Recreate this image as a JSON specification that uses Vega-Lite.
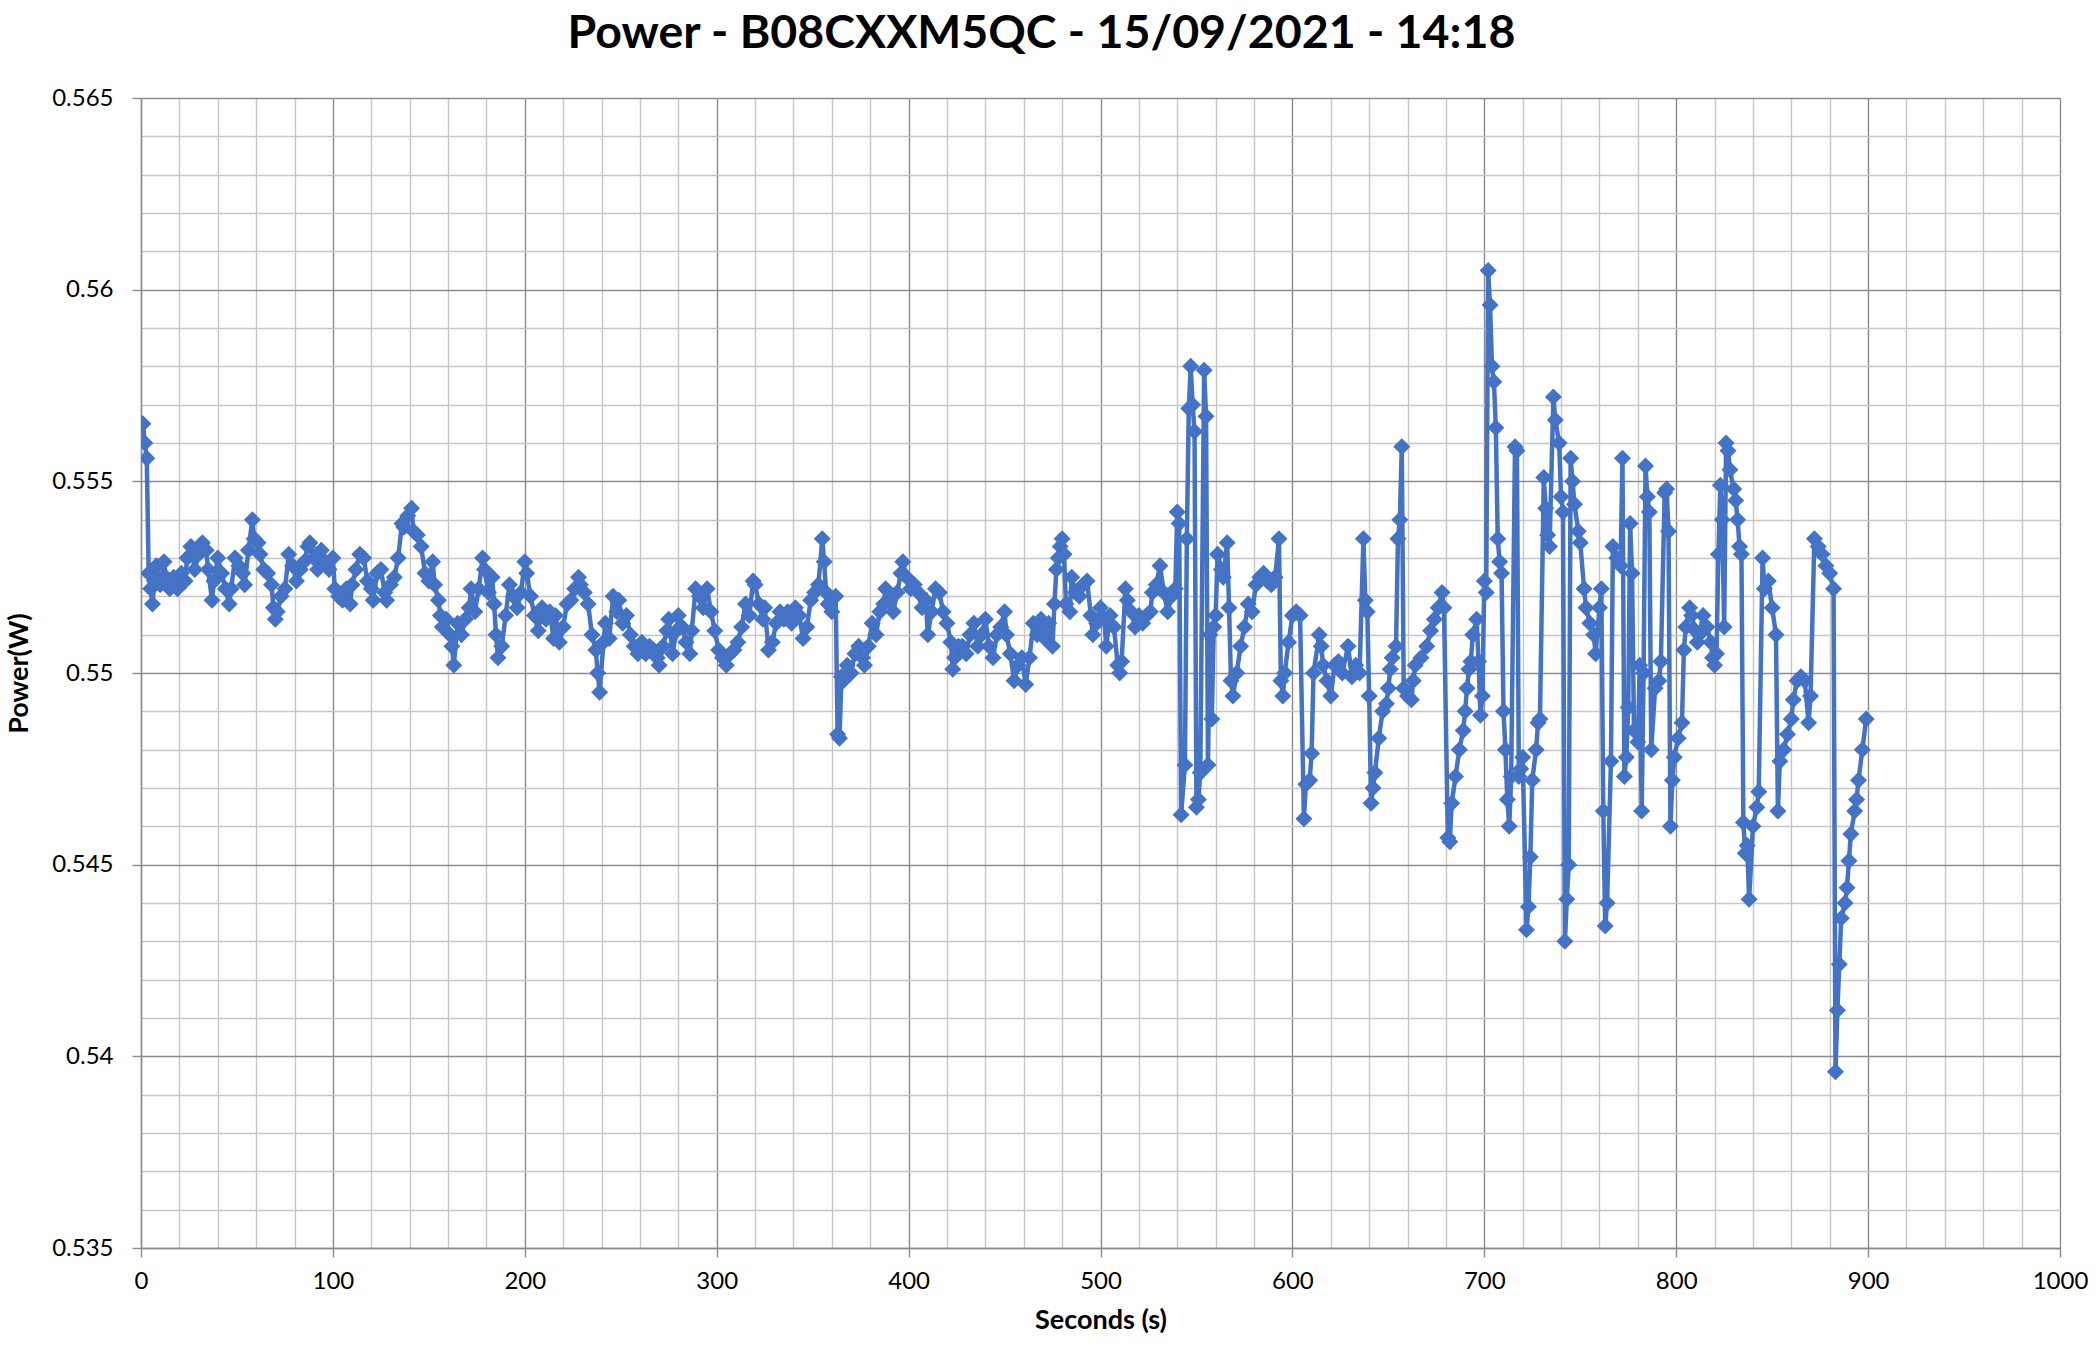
{
  "$schema": "https://vega.github.io/schema/vega-lite/v6.json",
  "width": 1919,
  "height": 1150,
  "autosize": {"type": "none"},
  "padding": {"left": 141, "top": 98, "right": 36, "bottom": 103},
  "background": "white",
  "config": {"view": {"stroke": null}},
  "title": {
    "text": "Power - B08CXXM5QC - 15/09/2021 - 14:18",
    "font": "Lato",
    "fontSize": 46.5,
    "fontWeight": "bold",
    "color": "#000000",
    "anchor": "middle",
    "dx": -59,
    "offset": -8,
    "baseline": "alphabetic"
  },
  "data": {
    "values": [
      {"s":1,"p":0.5565},{"s":2,"p":0.5560},{"s":3,"p":0.5556},{"s":4,"p":0.5526},{"s":5,"p":0.5522},{"s":6,"p":0.5518},{"s":7,"p":0.5524},{"s":8,"p":0.5528},{"s":10,"p":0.5523},{"s":12,"p":0.5529},{"s":13,"p":0.5525},{"s":15,"p":0.5522},{"s":17,"p":0.5525},{"s":19,"p":0.5522},{"s":21,"p":0.5526},{"s":23,"p":0.5524},{"s":24,"p":0.5530},{"s":26,"p":0.5533},{"s":28,"p":0.5527},{"s":30,"p":0.5531},{"s":32,"p":0.5534},{"s":34,"p":0.5532},{"s":35,"p":0.5527},{"s":37,"p":0.5519},{"s":38,"p":0.5524},{"s":40,"p":0.5530},{"s":42,"p":0.5526},{"s":44,"p":0.5522},{"s":46,"p":0.5518},{"s":47,"p":0.5522},{"s":49,"p":0.5530},{"s":51,"p":0.5528},{"s":53,"p":0.5526},{"s":54,"p":0.5523},{"s":56,"p":0.5532},{"s":58,"p":0.5540},{"s":59,"p":0.5535},{"s":61,"p":0.5534},{"s":62,"p":0.5531},{"s":64,"p":0.5527},{"s":66,"p":0.5526},{"s":68,"p":0.5523},{"s":69,"p":0.5517},{"s":70,"p":0.5514},{"s":71,"p":0.5516},{"s":73,"p":0.5520},{"s":75,"p":0.5522},{"s":77,"p":0.5531},{"s":79,"p":0.5528},{"s":81,"p":0.5524},{"s":83,"p":0.5527},{"s":85,"p":0.5529},{"s":87,"p":0.5533},{"s":88,"p":0.5534},{"s":90,"p":0.5530},{"s":92,"p":0.5527},{"s":94,"p":0.5532},{"s":96,"p":0.5529},{"s":98,"p":0.5527},{"s":100,"p":0.5530},
      {"s":101,"p":0.5522},{"s":103,"p":0.5520},{"s":105,"p":0.5519},{"s":107,"p":0.5522},{"s":109,"p":0.5518},{"s":110,"p":0.5523},{"s":112,"p":0.5527},{"s":114,"p":0.5531},{"s":116,"p":0.5530},{"s":118,"p":0.5524},{"s":120,"p":0.5522},{"s":121,"p":0.5519},{"s":123,"p":0.5526},{"s":125,"p":0.5527},{"s":127,"p":0.5521},{"s":128,"p":0.5519},{"s":130,"p":0.5523},{"s":132,"p":0.5525},{"s":134,"p":0.5530},{"s":136,"p":0.5539},{"s":137,"p":0.5538},{"s":139,"p":0.5541},{"s":141,"p":0.5543},{"s":142,"p":0.5537},{"s":144,"p":0.5536},{"s":146,"p":0.5533},{"s":148,"p":0.5526},{"s":150,"p":0.5524},{"s":152,"p":0.5529},{"s":153,"p":0.5523},{"s":155,"p":0.5519},{"s":156,"p":0.5515},{"s":157,"p":0.5512},{"s":159,"p":0.5514},{"s":161,"p":0.5510},{"s":162,"p":0.5507},{"s":163,"p":0.5502},{"s":165,"p":0.5513},{"s":167,"p":0.5510},{"s":169,"p":0.5514},{"s":171,"p":0.5517},{"s":172,"p":0.5522},{"s":174,"p":0.5516},{"s":176,"p":0.5522},{"s":178,"p":0.5530},{"s":179,"p":0.5527},{"s":181,"p":0.5521},{"s":183,"p":0.5525},{"s":184,"p":0.5518},{"s":185,"p":0.5510},{"s":186,"p":0.5504},{"s":188,"p":0.5507},{"s":190,"p":0.5515},{"s":192,"p":0.5523},{"s":194,"p":0.5520},{"s":196,"p":0.5517},{"s":198,"p":0.5521},{"s":200,"p":0.5529},
      {"s":201,"p":0.5526},{"s":203,"p":0.5520},{"s":205,"p":0.5515},{"s":207,"p":0.5511},{"s":209,"p":0.5517},{"s":211,"p":0.5514},{"s":213,"p":0.5516},{"s":215,"p":0.5509},{"s":216,"p":0.5515},{"s":218,"p":0.5508},{"s":220,"p":0.5512},{"s":222,"p":0.5518},{"s":224,"p":0.5519},{"s":226,"p":0.5522},{"s":228,"p":0.5525},{"s":229,"p":0.5523},{"s":231,"p":0.5521},{"s":233,"p":0.5518},{"s":235,"p":0.5510},{"s":237,"p":0.5506},{"s":238,"p":0.5500},{"s":239,"p":0.5495},{"s":241,"p":0.5508},{"s":242,"p":0.5513},{"s":244,"p":0.5509},{"s":246,"p":0.5520},{"s":248,"p":0.5516},{"s":249,"p":0.5519},{"s":251,"p":0.5513},{"s":253,"p":0.5515},{"s":255,"p":0.5510},{"s":257,"p":0.5507},{"s":259,"p":0.5505},{"s":261,"p":0.5508},{"s":263,"p":0.5505},{"s":265,"p":0.5507},{"s":267,"p":0.5506},{"s":269,"p":0.5504},{"s":270,"p":0.5502},{"s":272,"p":0.5507},{"s":274,"p":0.5511},{"s":275,"p":0.5514},{"s":277,"p":0.5505},{"s":279,"p":0.5511},{"s":280,"p":0.5515},{"s":282,"p":0.5512},{"s":284,"p":0.5508},{"s":286,"p":0.5505},{"s":287,"p":0.5511},{"s":289,"p":0.5522},{"s":291,"p":0.5520},{"s":293,"p":0.5517},{"s":295,"p":0.5522},{"s":297,"p":0.5516},{"s":299,"p":0.5511},
      {"s":301,"p":0.5506},{"s":303,"p":0.5504},{"s":305,"p":0.5502},{"s":307,"p":0.5505},{"s":309,"p":0.5506},{"s":311,"p":0.5508},{"s":313,"p":0.5512},{"s":315,"p":0.5518},{"s":317,"p":0.5515},{"s":319,"p":0.5524},{"s":320,"p":0.5523},{"s":322,"p":0.5518},{"s":324,"p":0.5514},{"s":325,"p":0.5517},{"s":327,"p":0.5506},{"s":329,"p":0.5508},{"s":331,"p":0.5513},{"s":333,"p":0.5516},{"s":335,"p":0.5514},{"s":337,"p":0.5516},{"s":339,"p":0.5513},{"s":341,"p":0.5517},{"s":343,"p":0.5515},{"s":345,"p":0.5509},{"s":347,"p":0.5512},{"s":349,"p":0.5519},{"s":351,"p":0.5521},{"s":353,"p":0.5523},{"s":355,"p":0.5535},{"s":356,"p":0.5529},{"s":357,"p":0.5521},{"s":358,"p":0.5518},{"s":360,"p":0.5516},{"s":362,"p":0.5520},{"s":363,"p":0.5484},{"s":364,"p":0.5483},{"s":365,"p":0.5499},{"s":366,"p":0.5498},{"s":368,"p":0.5502},{"s":370,"p":0.5500},{"s":372,"p":0.5505},{"s":374,"p":0.5507},{"s":376,"p":0.5504},{"s":377,"p":0.5502},{"s":379,"p":0.5507},{"s":381,"p":0.5513},{"s":383,"p":0.5510},{"s":385,"p":0.5516},{"s":387,"p":0.5518},{"s":388,"p":0.5522},{"s":390,"p":0.5519},{"s":392,"p":0.5516},{"s":394,"p":0.5521},{"s":396,"p":0.5526},{"s":397,"p":0.5529},{"s":399,"p":0.5525},
      {"s":401,"p":0.5522},{"s":403,"p":0.5523},{"s":405,"p":0.5521},{"s":407,"p":0.5517},{"s":409,"p":0.5519},{"s":410,"p":0.5510},{"s":412,"p":0.5516},{"s":414,"p":0.5522},{"s":416,"p":0.5521},{"s":418,"p":0.5516},{"s":420,"p":0.5513},{"s":422,"p":0.5508},{"s":423,"p":0.5501},{"s":424,"p":0.5504},{"s":426,"p":0.5507},{"s":428,"p":0.5507},{"s":430,"p":0.5505},{"s":432,"p":0.5510},{"s":434,"p":0.5513},{"s":436,"p":0.5507},{"s":438,"p":0.5510},{"s":440,"p":0.5514},{"s":442,"p":0.5507},{"s":444,"p":0.5504},{"s":446,"p":0.5510},{"s":448,"p":0.5512},{"s":450,"p":0.5516},{"s":451,"p":0.5510},{"s":453,"p":0.5505},{"s":455,"p":0.5498},{"s":457,"p":0.5502},{"s":459,"p":0.5504},{"s":461,"p":0.5497},{"s":463,"p":0.5504},{"s":465,"p":0.5513},{"s":467,"p":0.5510},{"s":469,"p":0.5514},{"s":471,"p":0.5509},{"s":473,"p":0.5513},{"s":475,"p":0.5507},{"s":476,"p":0.5518},{"s":477,"p":0.5527},{"s":478,"p":0.5530},{"s":479,"p":0.5533},{"s":480,"p":0.5535},{"s":481,"p":0.5531},{"s":482,"p":0.5518},{"s":484,"p":0.5516},{"s":485,"p":0.5525},{"s":487,"p":0.5521},{"s":489,"p":0.5520},{"s":491,"p":0.5523},{"s":493,"p":0.5524},{"s":495,"p":0.5515},{"s":496,"p":0.5510},{"s":498,"p":0.5513},{"s":500,"p":0.5517},
      {"s":502,"p":0.5514},{"s":503,"p":0.5507},{"s":505,"p":0.5515},{"s":507,"p":0.5512},{"s":509,"p":0.5502},{"s":510,"p":0.5500},{"s":511,"p":0.5503},{"s":513,"p":0.5522},{"s":514,"p":0.5519},{"s":516,"p":0.5516},{"s":518,"p":0.5512},{"s":520,"p":0.5515},{"s":522,"p":0.5513},{"s":524,"p":0.5515},{"s":526,"p":0.5516},{"s":527,"p":0.5521},{"s":529,"p":0.5523},{"s":531,"p":0.5528},{"s":533,"p":0.5521},{"s":535,"p":0.5516},{"s":537,"p":0.5520},{"s":539,"p":0.5522},{"s":540,"p":0.5542},{"s":541,"p":0.5539},{"s":542,"p":0.5463},{"s":544,"p":0.5476},{"s":545,"p":0.5535},{"s":546,"p":0.5569},{"s":547,"p":0.5580},{"s":548,"p":0.5570},{"s":549,"p":0.5563},{"s":550,"p":0.5465},{"s":551,"p":0.5467},{"s":552,"p":0.5474},{"s":554,"p":0.5579},{"s":555,"p":0.5567},{"s":556,"p":0.5476},{"s":557,"p":0.5510},{"s":558,"p":0.5488},{"s":559,"p":0.5512},{"s":560,"p":0.5515},{"s":561,"p":0.5531},{"s":563,"p":0.5527},{"s":564,"p":0.5525},{"s":566,"p":0.5534},{"s":567,"p":0.5517},{"s":568,"p":0.5498},{"s":569,"p":0.5494},{"s":571,"p":0.5500},{"s":573,"p":0.5507},{"s":575,"p":0.5512},{"s":577,"p":0.5518},{"s":579,"p":0.5516},{"s":581,"p":0.5523},{"s":583,"p":0.5525},{"s":585,"p":0.5526},{"s":587,"p":0.5524},{"s":589,"p":0.5523},{"s":591,"p":0.5525},{"s":593,"p":0.5535},{"s":594,"p":0.5498},{"s":595,"p":0.5494},{"s":596,"p":0.5500},{"s":598,"p":0.5508},{"s":600,"p":0.5515},
      {"s":602,"p":0.5516},{"s":604,"p":0.5515},{"s":606,"p":0.5462},{"s":607,"p":0.5471},{"s":609,"p":0.5472},{"s":610,"p":0.5479},{"s":611,"p":0.5500},{"s":614,"p":0.5510},{"s":615,"p":0.5507},{"s":616,"p":0.5502},{"s":618,"p":0.5498},{"s":620,"p":0.5494},{"s":622,"p":0.5502},{"s":624,"p":0.5503},{"s":626,"p":0.5500},{"s":629,"p":0.5507},{"s":631,"p":0.5499},{"s":633,"p":0.5502},{"s":635,"p":0.5500},{"s":637,"p":0.5535},{"s":638,"p":0.5519},{"s":639,"p":0.5516},{"s":640,"p":0.5494},{"s":641,"p":0.5466},{"s":642,"p":0.5470},{"s":643,"p":0.5474},{"s":645,"p":0.5483},{"s":647,"p":0.5490},{"s":649,"p":0.5492},{"s":650,"p":0.5496},{"s":651,"p":0.5501},{"s":652,"p":0.5504},{"s":654,"p":0.5507},{"s":655,"p":0.5535},{"s":656,"p":0.5540},{"s":657,"p":0.5559},{"s":658,"p":0.5496},{"s":660,"p":0.5494},{"s":662,"p":0.5493},{"s":663,"p":0.5498},{"s":664,"p":0.5502},{"s":667,"p":0.5504},{"s":670,"p":0.5507},{"s":672,"p":0.5511},{"s":674,"p":0.5514},{"s":676,"p":0.5517},{"s":678,"p":0.5521},{"s":679,"p":0.5517},{"s":681,"p":0.5457},{"s":682,"p":0.5456},{"s":683,"p":0.5466},{"s":685,"p":0.5473},{"s":687,"p":0.5480},{"s":689,"p":0.5485},{"s":690,"p":0.5490},{"s":691,"p":0.5496},{"s":692,"p":0.5501},{"s":693,"p":0.5503},{"s":694,"p":0.5510},{"s":696,"p":0.5514},{"s":697,"p":0.5503},{"s":698,"p":0.5489},{"s":699,"p":0.5494},{"s":700,"p":0.5524},
      {"s":701,"p":0.5521},{"s":702,"p":0.5605},{"s":703,"p":0.5596},{"s":704,"p":0.5580},{"s":705,"p":0.5576},{"s":706,"p":0.5564},{"s":707,"p":0.5535},{"s":708,"p":0.5529},{"s":709,"p":0.5526},{"s":710,"p":0.5490},{"s":711,"p":0.5480},{"s":712,"p":0.5467},{"s":713,"p":0.5460},{"s":714,"p":0.5473},{"s":716,"p":0.5559},{"s":717,"p":0.5558},{"s":718,"p":0.5473},{"s":719,"p":0.5475},{"s":720,"p":0.5478},{"s":722,"p":0.5433},{"s":723,"p":0.5439},{"s":724,"p":0.5452},{"s":725,"p":0.5472},{"s":727,"p":0.5480},{"s":728,"p":0.5487},{"s":729,"p":0.5488},{"s":731,"p":0.5551},{"s":732,"p":0.5543},{"s":733,"p":0.5536},{"s":734,"p":0.5533},{"s":736,"p":0.5572},{"s":737,"p":0.5566},{"s":739,"p":0.5560},{"s":740,"p":0.5546},{"s":741,"p":0.5542},{"s":742,"p":0.5430},{"s":743,"p":0.5441},{"s":744,"p":0.5450},{"s":745,"p":0.5556},{"s":746,"p":0.5550},{"s":747,"p":0.5544},{"s":749,"p":0.5537},{"s":750,"p":0.5534},{"s":752,"p":0.5522},{"s":753,"p":0.5517},{"s":755,"p":0.5513},{"s":757,"p":0.5510},{"s":758,"p":0.5505},{"s":760,"p":0.5517},{"s":761,"p":0.5522},{"s":762,"p":0.5464},{"s":763,"p":0.5434},{"s":764,"p":0.5440},{"s":766,"p":0.5477},{"s":767,"p":0.5533},{"s":769,"p":0.5530},{"s":771,"p":0.5528},{"s":772,"p":0.5556},{"s":773,"p":0.5473},{"s":774,"p":0.5478},{"s":775,"p":0.5491},{"s":776,"p":0.5539},{"s":777,"p":0.5526},{"s":778,"p":0.5485},{"s":780,"p":0.5482},{"s":781,"p":0.5502},{"s":782,"p":0.5464},{"s":783,"p":0.5500},{"s":784,"p":0.5554},{"s":785,"p":0.5546},{"s":786,"p":0.5542},{"s":787,"p":0.5480},{"s":789,"p":0.5496},{"s":791,"p":0.5498},{"s":792,"p":0.5503},{"s":794,"p":0.5547},{"s":795,"p":0.5548},{"s":796,"p":0.5537},{"s":797,"p":0.5460},{"s":798,"p":0.5472},{"s":799,"p":0.5478},
      {"s":801,"p":0.5483},{"s":803,"p":0.5487},{"s":804,"p":0.5506},{"s":805,"p":0.5512},{"s":807,"p":0.5517},{"s":808,"p":0.5515},{"s":810,"p":0.5511},{"s":811,"p":0.5508},{"s":812,"p":0.5510},{"s":814,"p":0.5515},{"s":816,"p":0.5512},{"s":818,"p":0.5508},{"s":819,"p":0.5504},{"s":820,"p":0.5502},{"s":821,"p":0.5505},{"s":822,"p":0.5531},{"s":823,"p":0.5549},{"s":824,"p":0.5540},{"s":825,"p":0.5512},{"s":826,"p":0.5560},{"s":827,"p":0.5558},{"s":828,"p":0.5553},{"s":830,"p":0.5548},{"s":831,"p":0.5545},{"s":832,"p":0.5540},{"s":833,"p":0.5533},{"s":834,"p":0.5531},{"s":835,"p":0.5461},{"s":836,"p":0.5453},{"s":837,"p":0.5455},{"s":838,"p":0.5441},{"s":840,"p":0.5460},{"s":842,"p":0.5465},{"s":843,"p":0.5469},{"s":845,"p":0.5530},{"s":846,"p":0.5522},{"s":848,"p":0.5524},{"s":850,"p":0.5517},{"s":852,"p":0.5510},{"s":853,"p":0.5464},{"s":854,"p":0.5477},{"s":856,"p":0.5480},{"s":858,"p":0.5484},{"s":860,"p":0.5488},{"s":861,"p":0.5493},{"s":863,"p":0.5498},{"s":865,"p":0.5499},{"s":867,"p":0.5498},{"s":869,"p":0.5487},{"s":870,"p":0.5494},{"s":872,"p":0.5535},{"s":874,"p":0.5533},{"s":876,"p":0.5531},{"s":878,"p":0.5528},{"s":880,"p":0.5526},{"s":882,"p":0.5522},{"s":883,"p":0.5396},{"s":884,"p":0.5412},{"s":885,"p":0.5424},{"s":886,"p":0.5436},{"s":888,"p":0.5440},{"s":889,"p":0.5444},{"s":890,"p":0.5451},{"s":891,"p":0.5458},{"s":893,"p":0.5464},{"s":894,"p":0.5467},{"s":895,"p":0.5472},{"s":897,"p":0.5480},{"s":899,"p":0.5488}
    ]
  },
  "mark": {
    "type": "line",
    "color": "#4472C4",
    "strokeWidth": 4.5,
    "clip": true,
    "point": {"shape": "diamond", "size": 290, "filled": true, "color": "#4472C4", "opacity": 1}
  },
  "encoding": {
    "x": {
      "field": "s",
      "type": "quantitative",
      "scale": {"domain": [0, 1000], "nice": false, "zero": false},
      "axis": {
        "title": "Seconds (s)",
        "titleFont": "Lato",
        "titleFontSize": 27,
        "titleFontWeight": "bold",
        "titleColor": "#000000",
        "titlePadding": 14,
        "values": [0,20,40,60,80,100,120,140,160,180,200,220,240,260,280,300,320,340,360,380,400,420,440,460,480,500,520,540,560,580,600,620,640,660,680,700,720,740,760,780,800,820,840,860,880,900,920,940,960,980,1000],
        "format": "d",
        "labelExpr": "datum.value % 100 === 0 ? datum.label : ''",
        "labelOverlap": false,
        "labelFont": "Lato",
        "labelFontSize": 24,
        "labelColor": "#000000",
        "labelPadding": 12,
        "labelFlush": false,
        "grid": true,
        "gridColor": {"condition": {"test": "datum.value % 100 === 0", "value": "#8c8c8c"}, "value": "#c6c6c6"},
        "gridWidth": 1.4,
        "domainColor": "#8c8c8c",
        "domainWidth": 1.4,
        "tickColor": "#8c8c8c",
        "tickSize": 9,
        "tickWidth": 1.4,
        "tickOpacity": {"condition": {"test": "datum.value % 100 === 0", "value": 1}, "value": 0}
      }
    },
    "y": {
      "field": "p",
      "type": "quantitative",
      "scale": {"domain": [0.535, 0.565], "nice": false, "zero": false},
      "axis": {
        "title": "Power(W)",
        "titleFont": "Lato",
        "titleFontSize": 27,
        "titleFontWeight": "bold",
        "titleColor": "#000000",
        "titlePadding": 18,
        "values": [0.535,0.536,0.537,0.538,0.539,0.54,0.541,0.542,0.543,0.544,0.545,0.546,0.547,0.548,0.549,0.55,0.551,0.552,0.553,0.554,0.555,0.556,0.557,0.558,0.559,0.56,0.561,0.562,0.563,0.564,0.565],
        "labelExpr": "round(datum.value*1000) % 5 === 0 ? toString(round(datum.value*1000)/1000) : ''",
        "labelOverlap": false,
        "labelFont": "Lato",
        "labelFontSize": 24,
        "labelColor": "#000000",
        "labelPadding": 19,
        "labelFlush": false,
        "grid": true,
        "gridColor": {"condition": {"test": "round(datum.value*1000) % 5 === 0", "value": "#8c8c8c"}, "value": "#c6c6c6"},
        "gridWidth": 1.4,
        "domainColor": "#8c8c8c",
        "domainWidth": 1.4,
        "tickColor": "#8c8c8c",
        "tickSize": 9,
        "tickWidth": 1.4,
        "tickOpacity": {"condition": {"test": "round(datum.value*1000) % 5 === 0", "value": 1}, "value": 0}
      }
    }
  }
}
